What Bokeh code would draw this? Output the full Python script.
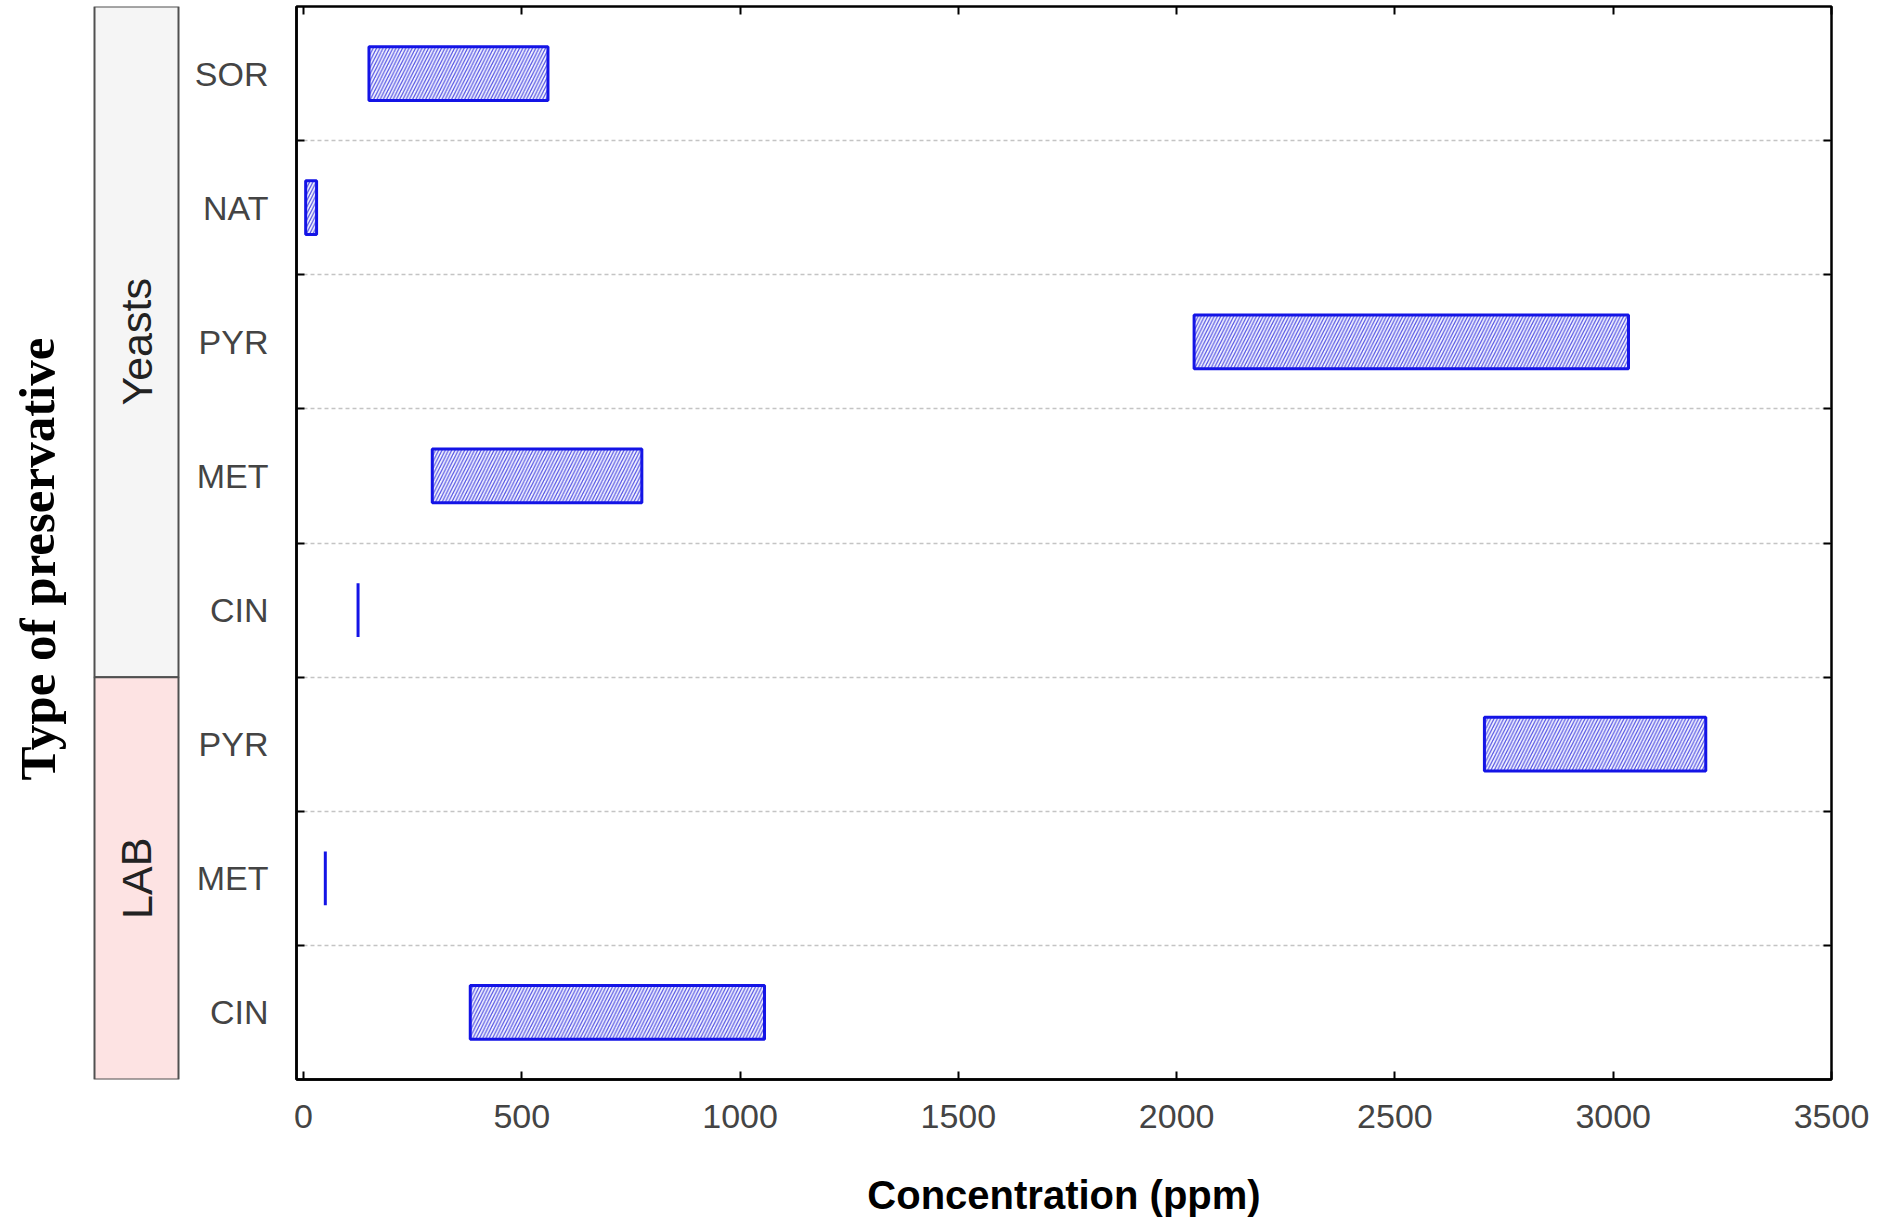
from bokeh.plotting import figure
from bokeh.layouts import row
from bokeh.models import Range1d, FixedTicker, LinearAxis, Label, ColumnDataSource
from bokeh.core.properties import value
from bokeh.embed import file_html
from bokeh.resources import INLINE

# ---- data (top to bottom) ----
groups = ["Yeasts", "Yeasts", "Yeasts", "Yeasts", "Yeasts", "LAB", "LAB", "LAB"]
preservatives = ["SOR", "NAT", "PYR", "MET", "CIN", "PYR", "MET", "CIN"]
conc_low = [150, 5, 2040, 295, 125, 2705, 50, 382]
conc_high = [560, 30, 3035, 775, 125, 3212, 50, 1056]
x_ticks = [0, 500, 1000, 1500, 2000, 2500, 3000, 3500]
group_names = ["Yeasts", "LAB"]
group_colors = ["#f5f5f5", "#fde3e3"]

n = len(preservatives)
ypos = [n - 1 - i for i in range(n)]
boundaries = [i + 0.5 for i in range(n - 1)]

B_TOP = 6
B_BOTTOM = 146
FRAME_H = 1073
H_TOTAL = B_TOP + FRAME_H + B_BOTTOM

yr = Range1d(-0.5, n - 0.5)

# ---- main plot ----
p = figure(width=1700, height=H_TOTAL, x_range=Range1d(-16, 3500), y_range=yr,
           output_backend="svg", toolbar_location=None,
           min_border_left=116, min_border_right=49,
           min_border_top=B_TOP, min_border_bottom=B_BOTTOM)
p.outline_line_color = "black"
p.outline_line_width = 2.5
p.background_fill_color = "white"
p.border_fill_color = "white"

src = ColumnDataSource(dict(y=ypos, left=conc_low, right=conc_high))
p.hbar(y="y", left="left", right="right", height=0.4, source=src,
       fill_color="#f4f4ff", line_color="#1414e6", line_width=3,
       hatch_pattern="/", hatch_color="#5050e2", hatch_scale=6.5, hatch_weight=1.2)

# x axis
xa = p.xaxis[0]
xa.ticker = FixedTicker(ticks=x_ticks)
xa.major_tick_in = 8
xa.major_tick_out = 0
xa.minor_tick_line_color = None
xa.axis_line_color = "black"
xa.axis_line_width = 2.5
xa.major_tick_line_width = 2
xa.major_label_text_font = "Liberation Sans"
xa.major_label_text_font_size = "34px"
xa.major_label_text_color = "#444444"
xa.major_label_standoff = 25
xa.axis_label = "Concentration (ppm)"
xa.axis_label_text_font = "Liberation Sans"
xa.axis_label_text_font_style = "bold"
xa.axis_label_text_font_size = "40px"
xa.axis_label_text_color = "black"
xa.axis_label_standoff = 42

# y axis
ya = p.yaxis[0]
ya.ticker = FixedTicker(ticks=ypos, minor_ticks=boundaries)
ya.major_label_overrides = {y: lab for y, lab in zip(ypos, preservatives)}
ya.major_tick_line_color = None
ya.minor_tick_in = 8
ya.minor_tick_out = 0
ya.minor_tick_line_width = 2
ya.axis_line_color = "black"
ya.axis_line_width = 2.5
ya.major_label_text_font = "Liberation Sans"
ya.major_label_text_font_size = "34px"
ya.major_label_text_color = "#444444"
ya.major_label_standoff = 22

# top & right axes (ticks only, no labels)
top = LinearAxis(ticker=FixedTicker(ticks=x_ticks), major_tick_in=8, major_tick_out=0,
                 minor_tick_line_color=None, major_label_text_font_size="1px",
                 major_label_overrides={t: "" for t in x_ticks},
                 major_label_standoff=0, axis_line_color="black", major_tick_line_width=2)
p.add_layout(top, "above")
right = LinearAxis(ticker=FixedTicker(ticks=[], minor_ticks=boundaries),
                   major_tick_line_color=None, minor_tick_in=8, minor_tick_out=0,
                   minor_tick_line_width=2, major_label_text_font_size="1px",
                   major_label_standoff=0, axis_line_color="black")
p.add_layout(right, "right")

p.xgrid.visible = False
p.ygrid.ticker = FixedTicker(ticks=boundaries)
p.ygrid.grid_line_color = "#c4c4c4"
p.ygrid.grid_line_dash = "4 3"
p.ygrid.grid_line_width = 1.5

# ---- group strip (frame spans the whole strip column, box drawn from 0 to 1) ----
STRIP_W = 180
BOX_PX = 84
s = figure(width=STRIP_W, height=H_TOTAL,
           x_range=Range1d(-94 / BOX_PX, 1 + 2 / BOX_PX), y_range=yr,
           output_backend="svg", toolbar_location=None,
           min_border_left=0, min_border_right=0,
           min_border_top=B_TOP, min_border_bottom=B_BOTTOM)
s.outline_line_color = None
s.xaxis.visible = False
s.yaxis.visible = False
s.grid.visible = False
s.border_fill_color = "white"
s.background_fill_color = "white"

g_top, g_bot, g_mid = [], [], []
for gname in group_names:
    ys = [y for y, g in zip(ypos, groups) if g == gname]
    g_top.append(max(ys) + 0.5)
    g_bot.append(min(ys) - 0.5)
    g_mid.append((max(ys) + min(ys)) / 2)
s.quad(left=0, right=1, top=g_top, bottom=g_bot, fill_color=group_colors,
       line_color="#505050", line_width=2)
s.text(x=[0.5] * len(group_names), y=g_mid, text=group_names, angle=1.5708,
       text_align="center", text_baseline="middle",
       text_font=value("Liberation Sans"), text_font_size="43px", text_color="#222222")

# y-axis title (screen units, relative to the strip frame)
s.add_layout(Label(x=37, y=FRAME_H / 2 - 16, x_units="screen", y_units="screen",
                   text="Type of preservative", angle=1.5708,
                   text_align="center", text_baseline="middle",
                   text_font="Liberation Serif", text_font_style="bold",
                   text_font_size="51px", text_color="black"))

layout = row(s, p)
open("out.html", "w").write(file_html(layout, INLINE))
